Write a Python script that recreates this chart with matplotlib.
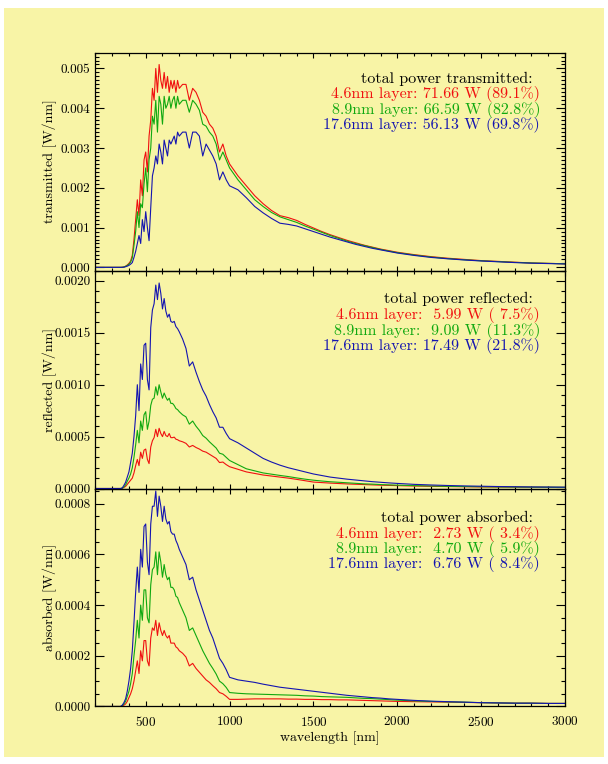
import numpy as np
import matplotlib
matplotlib.use('Agg')
import matplotlib.pyplot as plt
from matplotlib.patches import Rectangle
from matplotlib.ticker import MultipleLocator, FormatStrFormatter

plt.rcParams['font.family'] = 'cmr10'
plt.rcParams['axes.formatter.use_mathtext'] = True
plt.rcParams['mathtext.fontset'] = 'cm'

# wavelength grid [nm]
wavelength = [200, 300, 350,
              360, 370, 380, 390, 400, 410, 420, 430, 440, 450,
              460, 470, 480, 490, 500, 510, 520, 530, 540, 550,
              560, 570, 580, 590, 600, 610, 620, 630, 640, 650,
              660, 670, 680, 690, 700,
              720, 740, 760, 780, 800, 820, 840, 860, 880, 900, 920, 940, 960, 980, 1000,
              1050, 1100, 1150, 1200, 1250, 1300, 1350, 1400, 1450, 1500,
              1550, 1600, 1650, 1700, 1750, 1800, 1850, 1900, 1950, 2000,
              2100, 2200, 2300, 2400, 2500, 2600, 2700, 2800, 2900, 3000]

# all values in units of 1e-4 W/nm
trans_46 = [0, 0, 0,
            0.02, 0.1, 0.3, 0.6, 1.0, 1.6, 3.0, 7, 12, 17,
            13, 22, 18, 27, 29, 24, 33, 37, 45, 42,
            50, 44, 51, 47, 45, 49, 45, 48, 44, 47,
            45, 47, 44, 47, 45,
            46, 46, 42, 45, 44, 42, 39, 38, 36, 35, 33, 29, 31, 28, 26,
            23, 20.5, 18, 16, 14.3, 13, 12.5, 11.8, 10.8, 9.9,
            9.0, 8.2, 7.5, 6.8, 6.2, 5.6, 5.1, 4.6, 4.2, 3.8,
            3.2, 2.7, 2.3, 2.0, 1.7, 1.5, 1.3, 1.1, 1.0, 0.9]
trans_89 = [0, 0, 0,
            0.02, 0.08, 0.25, 0.5, 0.8, 1.3, 2.4, 5.5, 9, 14,
            10, 16, 15, 21, 25, 19, 27, 30, 38, 36,
            42, 34, 43, 41, 36, 43, 40, 41, 43, 40,
            42, 43, 40, 43, 41,
            42, 42, 39, 42, 41, 39.5, 36, 35.5, 34, 33, 31, 27, 29, 27, 25,
            22, 19.5, 17, 15.3, 13.8, 12.7, 12.0, 11.3, 10.4, 9.6,
            8.8, 8.0, 7.3, 6.6, 6.0, 5.5, 5.0, 4.5, 4.1, 3.7,
            3.1, 2.6, 2.2, 1.9, 1.65, 1.45, 1.25, 1.1, 1.0, 0.9]
trans_176 = [0, 0, 0,
             0.01, 0.05, 0.15, 0.3, 0.5, 0.8, 1.2, 2.5, 4, 6,
             8, 6, 12, 9, 14, 10, 6.7, 15, 23, 25,
             28, 26, 31, 29, 26, 32, 30, 28, 32, 31,
             32, 33, 31, 34, 33,
             34, 34, 30, 34, 34, 33, 28, 31, 29.5, 28, 26, 22, 24, 22, 20.5,
             19.5, 17.5, 15.3, 13.7, 12.3, 11.1, 10.8, 10.4, 9.7, 9.0,
             8.3, 7.6, 7.0, 6.4, 5.8, 5.3, 4.8, 4.4, 4.0, 3.6,
             3.0, 2.5, 2.15, 1.85, 1.6, 1.4, 1.2, 1.05, 0.95, 0.85]

refl_46 = [0, 0, 0,
           0.02, 0.1, 0.2, 0.4, 0.6, 0.8, 1.0, 1.5, 2.2, 2.8,
           2.2, 3.5, 2.9, 3.7, 3.8, 2.8, 2.4, 4.0, 4.6, 4.9,
           5.7, 5.0, 5.8, 5.3, 5.0, 5.5, 5.1, 5.0, 5.3, 4.9,
           4.9, 4.95, 4.75, 4.7, 4.6,
           4.5, 4.35, 4.0, 4.15, 3.95, 3.8, 3.6, 3.5, 3.3, 3.1, 2.9, 2.5, 2.55, 2.3, 2.1,
           1.85, 1.6, 1.45, 1.3, 1.2, 1.1, 1.0, 0.88, 0.75, 0.62,
           0.57, 0.52, 0.48, 0.44, 0.41, 0.38, 0.35, 0.32, 0.3, 0.28,
           0.24, 0.21, 0.19, 0.17, 0.15, 0.14, 0.13, 0.12, 0.11, 0.1]
refl_89 = [0, 0, 0,
           0.03, 0.15, 0.35, 0.7, 1.0, 1.4, 2.0, 3.0, 4.2, 5.6,
           4.4, 6.5, 5.6, 7.1, 7.4, 5.7, 6.5, 8.0, 8.6, 8.7,
           9.8, 9.0, 10.0, 9.3, 8.7, 9.2, 8.8, 8.5, 8.7, 8.2,
           8.2, 8.0, 7.7, 7.6, 7.4,
           7.1, 6.9, 6.2, 6.5, 6.0, 5.6, 5.1, 4.85, 4.5, 4.2, 3.9, 3.4, 3.3, 3.0, 2.7,
           2.3, 1.9, 1.7, 1.5, 1.38, 1.26, 1.15, 1.02, 0.9, 0.8,
           0.72, 0.65, 0.6, 0.55, 0.5, 0.45, 0.42, 0.38, 0.35, 0.32,
           0.28, 0.24, 0.21, 0.19, 0.17, 0.15, 0.14, 0.13, 0.12, 0.11]
refl_176 = [0, 0, 0,
            0.05, 0.3, 0.6, 1.1, 1.6, 2.5, 3.4, 5, 7, 10,
            7.5, 12, 10.5, 13.8, 14, 10.5, 9.5, 15.5, 17.2, 17.8,
            19.6, 18.2, 19.8, 18.8, 17.3, 18.3, 17.1, 16.5, 16.8, 16.1,
            16, 16.1, 15.6, 15.4, 15.1,
            14.4, 13.5, 11.8, 12.2, 11.2, 10.3, 9.5, 8.9, 8.1, 7.4, 6.8, 5.9, 5.9, 5.3, 4.8,
            4.4, 3.9, 3.4, 2.9, 2.55, 2.25, 2.0, 1.8, 1.6, 1.4,
            1.25, 1.1, 1.0, 0.9, 0.82, 0.74, 0.66, 0.6, 0.54, 0.49,
            0.4, 0.34, 0.29, 0.25, 0.22, 0.19, 0.17, 0.15, 0.14, 0.13]

abs_46 = [0, 0, 0,
          0.02, 0.05, 0.1, 0.2, 0.35, 0.5, 0.7, 1.0, 1.4, 1.8,
          1.3, 2.2, 1.8, 2.6, 2.6, 1.8, 1.6, 2.7, 3.1, 3.0,
          3.4, 2.8, 3.3, 3.0, 2.8, 3.0, 2.8, 2.7, 2.8, 2.5,
          2.5, 2.5, 2.35, 2.3, 2.2,
          2.1, 1.95, 1.6, 1.7, 1.5, 1.35, 1.2, 1.05, 0.95, 0.82, 0.7, 0.55, 0.5, 0.4, 0.28,
          0.28, 0.29, 0.3, 0.3, 0.3, 0.3, 0.29, 0.29, 0.28, 0.28,
          0.27, 0.27, 0.26, 0.26, 0.25, 0.24, 0.23, 0.22, 0.21, 0.2,
          0.19, 0.18, 0.17, 0.16, 0.15, 0.14, 0.13, 0.13, 0.12, 0.12]
abs_89 = [0, 0, 0,
          0.03, 0.1, 0.2, 0.4, 0.6, 0.9, 1.3, 2.0, 2.6, 3.4,
          2.7, 4.0, 3.4, 4.6, 4.6, 3.5, 3.3, 4.8, 5.4, 5.5,
          6.1, 5.2, 6.1, 5.7, 5.1, 5.6, 5.2, 5.0, 5.1, 4.7,
          4.7, 4.6, 4.35, 4.3, 4.1,
          3.8, 3.5, 3.0, 3.1, 2.8, 2.5, 2.2, 1.95, 1.7, 1.5, 1.28, 1.0, 0.9, 0.75, 0.55,
          0.52, 0.5, 0.49, 0.48, 0.47, 0.46, 0.45, 0.44, 0.42, 0.41,
          0.39, 0.38, 0.37, 0.36, 0.34, 0.32, 0.31, 0.29, 0.27, 0.25,
          0.22, 0.2, 0.18, 0.17, 0.15, 0.14, 0.13, 0.13, 0.12, 0.12]
abs_176 = [0, 0, 0,
           0.05, 0.15, 0.3, 0.6, 1.0, 1.5, 2.2, 3.3, 4.5, 5.5,
           4.5, 6.2, 5.5, 7.1, 7.2, 5.7, 5.2, 7.2, 7.9, 7.9,
           8.5, 7.5, 8.3, 7.9, 7.3, 7.9, 7.4, 7.2, 7.3, 6.9,
           6.8, 6.8, 6.55, 6.4, 6.2,
           5.9, 5.6, 5.0, 5.1, 4.6, 4.2, 3.8, 3.4, 3.0, 2.7, 2.3, 1.9, 1.7, 1.45, 1.15,
           1.05, 1.0, 0.95, 0.88, 0.82, 0.76, 0.72, 0.68, 0.64, 0.6,
           0.56, 0.52, 0.48, 0.44, 0.41, 0.38, 0.35, 0.33, 0.3, 0.28,
           0.24, 0.21, 0.19, 0.17, 0.15, 0.14, 0.13, 0.13, 0.12, 0.12]

trans_text = ["total power transmitted:",
              "4.6nm layer: 71.66 W (89.1%)",
              "8.9nm layer: 66.59 W (82.8%)",
              "17.6nm layer: 56.13 W (69.8%)"]
refl_text = ["total power reflected:",
             "4.6nm layer:  5.99 W ( 7.5%)",
             "8.9nm layer:  9.09 W (11.3%)",
             "17.6nm layer: 17.49 W (21.8%)"]
abs_text = ["total power absorbed:",
            "4.6nm layer:  2.73 W ( 3.4%)",
            "8.9nm layer:  4.70 W ( 5.9%)",
            "17.6nm layer:  6.76 W ( 8.4%)"]

BG = '#f8f4a6'
colors = ['#f01010', '#10a810', '#1414b0']

fig = plt.figure(figsize=(6.08, 7.64), dpi=100)
fig.patch.set_facecolor('white')
fig.add_artist(Rectangle((4 / 608, 1 - 757 / 764), 600 / 608, 749 / 764,
                         transform=fig.transFigure, facecolor=BG,
                         edgecolor='none', zorder=-10))

wl = np.array(wavelength)
panels = [
    (0.6459, [trans_46, trans_89, trans_176], (-0.00008, 0.0054), 0.001, 0.0001, '%.3f',
     'transmitted [W/nm]', trans_text, [0.888, 0.817, 0.746, 0.675]),
    (0.3606, [refl_46, refl_89, refl_176], (0, 0.0021), 0.0005, 0.0001, '%.4f',
     'reflected [W/nm]', refl_text, [0.876, 0.805, 0.734, 0.663]),
    (0.0753, [abs_46, abs_89, abs_176], (0, 0.00086), 0.0002, 0.00005, '%.4f',
     'absorbed [W/nm]', abs_text, [0.872, 0.801, 0.730, 0.661]),
]

for i, (bottom, series, ylim, major, minor, fmt, ylabel, texts, ty) in enumerate(panels):
    ax = fig.add_axes([0.1569, bottom, 0.7724, 0.2853])
    ax.set_facecolor('none')
    for vals, c in zip(series, colors):
        ax.plot(wl, np.array(vals) * 1e-4, color=c, lw=0.8)
    ax.set_xlim(200, 3000)
    ax.set_ylim(*ylim)
    ax.xaxis.set_major_locator(MultipleLocator(500))
    ax.xaxis.set_minor_locator(MultipleLocator(100))
    ax.yaxis.set_major_locator(MultipleLocator(major))
    ax.yaxis.set_minor_locator(MultipleLocator(minor))
    ax.yaxis.set_major_formatter(FormatStrFormatter(fmt))
    ax.tick_params(which='both', direction='in', top=True, right=True,
                   labelsize=9.5, width=0.8, pad=3.5)
    ax.tick_params(axis='x', which='major', length=3.6, pad=6)
    ax.tick_params(axis='x', which='minor', length=2)
    ax.tick_params(axis='y', which='major', length=6.7)
    ax.tick_params(axis='y', which='minor', length=3.1)
    for s in ax.spines.values():
        s.set_linewidth(0.9)
    ax.set_ylabel(ylabel, fontsize=10)
    ax.yaxis.set_label_coords(-0.082, 0.5)
    if i < 2:
        ax.tick_params(labelbottom=False)
    else:
        ax.set_xlabel('wavelength [nm]', fontsize=10, labelpad=2)
    ax.text(0.932, ty[0], texts[0], transform=ax.transAxes, ha='right',
            va='center_baseline', fontsize=11.5, color='black')
    for t, y, c in zip(texts[1:], ty[1:], colors):
        ax.text(0.947, y, t, transform=ax.transAxes, ha='right',
                va='center_baseline', fontsize=11.5, color=c)

fig.savefig('out.png', dpi=100, facecolor='white')
